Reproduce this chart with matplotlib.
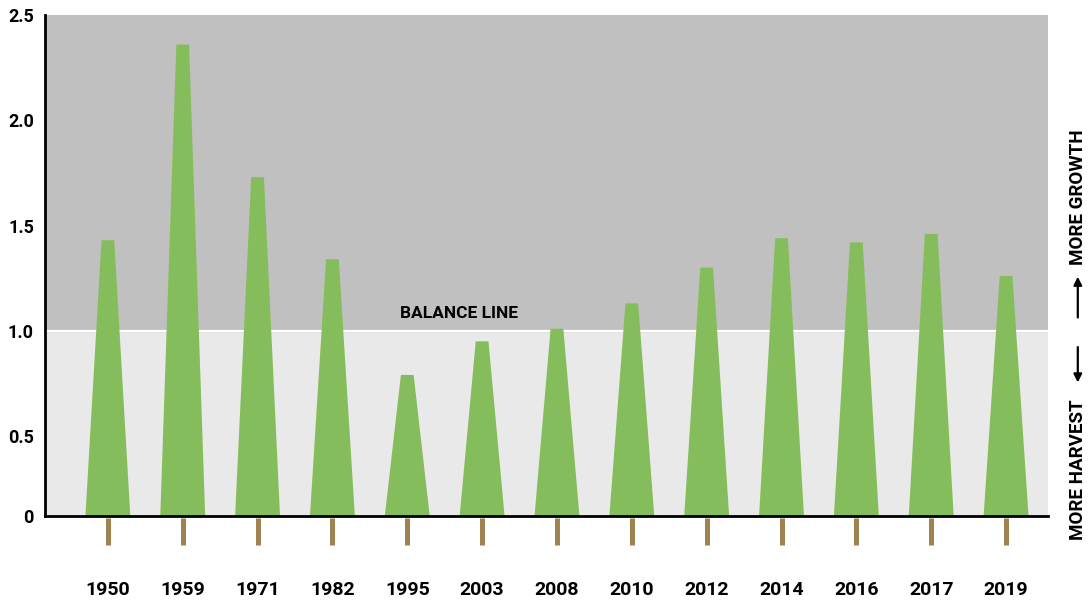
import matplotlib.pyplot as plt
from matplotlib.transforms import blended_transform_factory

# Data
years = ['1950', '1959', '1971', '1982', '1995', '2003', '2008',
         '2010', '2012', '2014', '2016', '2017', '2019']
ratio = [1.43, 2.36, 1.73, 1.34, 0.79, 0.95, 1.01,
         1.13, 1.30, 1.44, 1.42, 1.46, 1.26]
ytick_vals = [0.12, 0.5, 1.0, 1.5, 2.0, 2.5]
ytick_labels = ['0', '0.5', '1.0', '1.5', '2.0', '2.5']

plt.rcParams['font.family'] = ['Roboto', 'DejaVu Sans']
plt.rcParams['font.weight'] = 'bold'

fig = plt.figure(figsize=(10.92, 6.02), dpi=100)
ax = fig.add_axes([0.0412, 0.1429, 0.9185, 0.832])

ymin, ymax = 0.12, 2.5
ax.set_ylim(ymin, ymax)
ax.set_xlim(-0.84, len(years) - 1 + 0.56)

# background bands
ax.axhspan(ymin, 1.0, color='#e9e9e9', zorder=0)
ax.axhspan(1.0, ymax, color='#c0c0c0', zorder=0)
ax.axhline(1.0, color='white', lw=1.6, zorder=1)

# trees (trapezoids)
bw, tw = 0.30, 0.085
for i, v in enumerate(ratio):
    ax.fill([i - bw, i - tw, i + tw, i + bw], [ymin, v, v, ymin],
            color='#86bd5c', lw=0, zorder=2)

# trunks below the axis
trans = blended_transform_factory(ax.transData, ax.transAxes)
for i in range(len(years)):
    ax.plot([i, i], [-0.005, -0.058], color='#a08150', lw=3.6,
            solid_capstyle='butt', transform=trans, clip_on=False)

ax.set_xticks(range(len(years)))
ax.set_xticklabels(years, fontsize=14, fontweight='bold')
ax.tick_params(axis='x', length=0, pad=47)
ax.set_yticks(ytick_vals)
ax.set_yticklabels(ytick_labels, fontsize=13, fontweight='bold')
ax.tick_params(axis='y', length=0, pad=8)

for s in ['top', 'right']:
    ax.spines[s].set_visible(False)
ax.spines['left'].set_linewidth(2)
ax.spines['bottom'].set_linewidth(2)

ax.text(4.69, 1.045, 'BALANCE LINE', fontsize=12.5, fontweight='bold',
        ha='center', va='bottom', zorder=3)

# right-side labels
fig.text(0.987, 0.673, 'MORE GROWTH', rotation=90, fontsize=13.5,
         fontweight='bold', ha='center', va='center')
fig.text(0.987, 0.219, 'MORE HARVEST', rotation=90, fontsize=13.5,
         fontweight='bold', ha='center', va='center')
fig.add_artist(plt.Annotation('', xy=(0.987, 0.545), xytext=(0.987, 0.468),
                              xycoords='figure fraction',
                              arrowprops=dict(arrowstyle='-|>', color='black',
                                              lw=1.6, mutation_scale=12)))
fig.add_artist(plt.Annotation('', xy=(0.987, 0.360), xytext=(0.987, 0.428),
                              xycoords='figure fraction',
                              arrowprops=dict(arrowstyle='-|>', color='black',
                                              lw=1.6, mutation_scale=12)))

fig.savefig('out.png', dpi=100)
